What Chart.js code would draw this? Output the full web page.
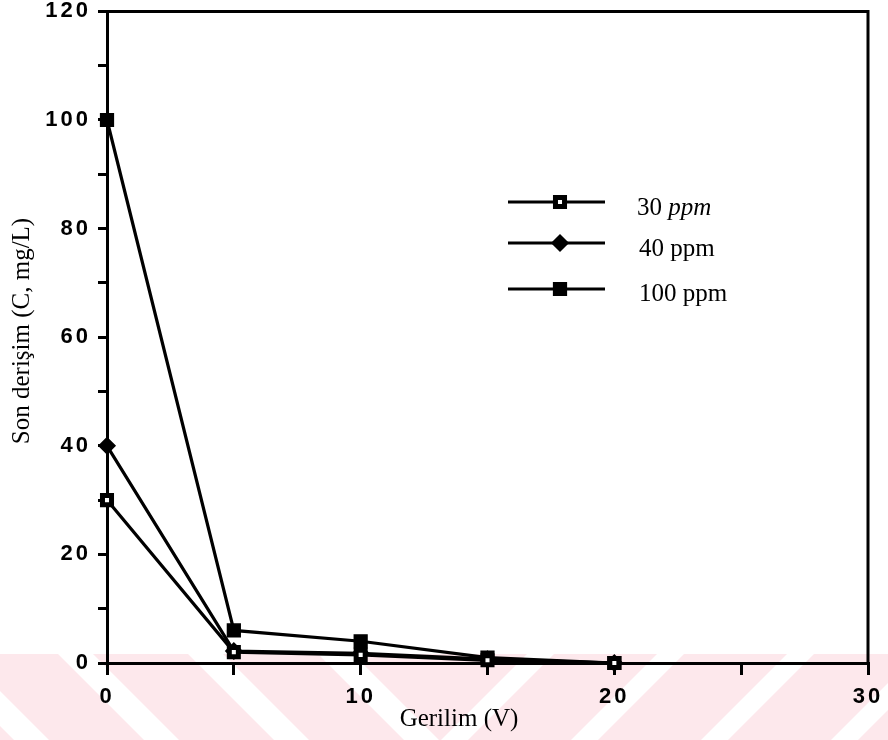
<!DOCTYPE html>
<html>
<head>
<meta charset="utf-8">
<script src="https://cdn.jsdelivr.net/npm/chart.js@4/dist/chart.umd.min.js"></script>
<style>
  html, body { margin: 0; padding: 0; background: #ffffff; }
  #c { display: block; }
</style>
</head>
<body>
<canvas id="c" width="888" height="740"></canvas>
<script>
// ---- data ----
const voltages = [0, 5, 10, 15, 20];          // Gerilim (V)
const conc30   = [30, 2, 1.5, 0.5, 0];         // 30 ppm
const conc40   = [40, 2.2, 1.8, 0.7, 0];       // 40 ppm
const conc100  = [100, 6, 4, 1, 0];            // 100 ppm
const seriesLabels = ['30 ppm', '40 ppm', '100 ppm'];
const xTickLabels = [0, 10, 20, 30];
const yTickLabels = [0, 20, 40, 60, 80, 100, 120];
const xTitle = 'Gerilim (V)';
const yTitle = 'Son derişim (C, mg/L)';

const toXY = arr => voltages.map((v, i) => ({ x: v, y: arr[i] }));

const serif = '"Liberation Serif", "Times New Roman", serif';
const sans = '"Liberation Sans", Arial, Helvetica, sans-serif';

const datasets = [
  { label: seriesLabels[0], data: toXY(conc30), borderColor: '#000', borderWidth: 3.2,
    pointStyle: 'rect', pointRadius: 6.4, pointBorderWidth: 5,
    pointBackgroundColor: '#fff', pointBorderColor: '#000', clip: false, tension: 0 },
  { label: seriesLabels[1], data: toXY(conc40), borderColor: '#000', borderWidth: 3.2,
    pointStyle: 'rectRot', pointRadius: 8, pointBorderWidth: 1.5,
    pointBackgroundColor: '#000', pointBorderColor: '#000', clip: false, tension: 0 },
  { label: seriesLabels[2], data: toXY(conc100), borderColor: '#000', borderWidth: 3.2,
    pointStyle: 'rect', pointRadius: 9, pointBorderWidth: 1.5,
    pointBackgroundColor: '#000', pointBorderColor: '#000', clip: false, tension: 0 }
];

function drawStripes(ctx, x0, x1, top, bot, start, period, pinkW, dir) {
  const h = bot - top;
  ctx.save();
  ctx.beginPath();
  ctx.rect(x0, top, x1 - x0, h);
  ctx.clip();
  for (let s = start - 10 * period; s < x1 + 2 * period; s += period) {
    ctx.beginPath();
    ctx.moveTo(s, top);
    ctx.lineTo(s + pinkW, top);
    ctx.lineTo(s + pinkW + dir * h, bot);
    ctx.lineTo(s + dir * h, bot);
    ctx.closePath();
    ctx.fill();
  }
  ctx.restore();
}

// watermark stripes (background decoration) + letter spacing for tick numerals
const bgPlugin = {
  id: 'bg',
  beforeDraw(chart) {
    const ctx = chart.ctx;
    ctx.save();
    ctx.fillStyle = '#fff';
    ctx.fillRect(0, 0, chart.width, chart.height);
    ctx.fillStyle = '#fde8ec';
    const top = 654, bot = 740, mid = 440;
    drawStripes(ctx, 0, mid, top, bot, 223, 130, 95, 1);      // "\" stripes
    drawStripes(ctx, mid, chart.width, top, bot, 554, 130, 103, -1); // "/" stripes
    ctx.restore();
    ctx.letterSpacing = '3px';
  },
  afterDraw(chart) {
    const ctx = chart.ctx;
    const area = chart.chartArea;
    ctx.save();
    ctx.letterSpacing = '0px';
    // frame top and right
    ctx.strokeStyle = '#000';
    ctx.lineWidth = 3;
    ctx.beginPath();
    ctx.moveTo(area.left - 9, area.top);
    ctx.lineTo(area.right, area.top);
    ctx.lineTo(area.right, area.bottom);
    ctx.stroke();

    // axis titles
    ctx.fillStyle = '#000';
    ctx.font = '25px ' + serif;
    ctx.textAlign = 'center';
    ctx.textBaseline = 'middle';
    ctx.fillText(xTitle, 459, 719);
    ctx.save();
    ctx.translate(22, 331);
    ctx.rotate(-Math.PI / 2);
    ctx.fillText(yTitle, 0, 0);
    ctx.restore();

    // legend
    const ys = [202, 243, 289];
    const textY = [208, 249, 294];
    chart.data.datasets.forEach((ds, i) => {
      ctx.strokeStyle = '#000';
      ctx.lineWidth = 3.2;
      ctx.beginPath();
      ctx.moveTo(508, ys[i]);
      ctx.lineTo(605, ys[i]);
      ctx.stroke();
      ctx.fillStyle = ds.pointBackgroundColor;
      ctx.strokeStyle = ds.pointBorderColor;
      ctx.lineWidth = ds.pointBorderWidth;
      Chart.helpers.drawPoint(ctx, {
        pointStyle: ds.pointStyle, radius: ds.pointRadius,
        borderWidth: ds.pointBorderWidth, rotation: 0
      }, 560, ys[i]);
      ctx.fillStyle = '#000';
      ctx.textAlign = 'left';
      ctx.textBaseline = 'middle';
      if (i === 0) {
        const parts = ds.label.split(' ');
        ctx.font = '25px ' + serif;
        ctx.fillText(parts[0] + ' ', 637, textY[i]);
        const w = ctx.measureText(parts[0] + ' ').width;
        ctx.font = 'italic 25px ' + serif;
        ctx.fillText(parts[1], 637 + w, textY[i]);
      } else {
        ctx.font = '25px ' + serif;
        ctx.fillText(ds.label, 639, textY[i]);
      }
    });
    ctx.restore();
  }
};

new Chart(document.getElementById('c'), {
  type: 'line',
  data: { datasets },
  plugins: [bgPlugin],
  options: {
    responsive: false,
    animation: false,
    devicePixelRatio: 1,
    layout: { padding: { top: 10, right: 20, left: 0, bottom: 0 } },
    plugins: { legend: { display: false }, tooltip: { enabled: false } },
    scales: {
      x: {
        type: 'linear', min: 0, max: 30,
        afterFit: s => { s.height = 77; s.paddingLeft = 0; s.paddingRight = 0; },
        afterBuildTicks: s => { s.ticks = [0,5,10,15,20,25,30].map(v => ({ value: v })); },
        ticks: {
          autoSkip: false, maxRotation: 0, color: '#000', padding: 11,
          font: { family: sans, size: 22, weight: 'bold', lineHeight: 1 },
          callback: v => xTickLabels.includes(v) ? String(v) : ''
        },
        grid: { drawOnChartArea: false, drawTicks: true, tickLength: 12, lineWidth: 3, color: '#000' },
        border: { display: true, width: 3, color: '#000' }
      },
      y: {
        type: 'linear', min: 0, max: 120,
        afterFit: s => { s.width = 107; s.paddingTop = 0; s.paddingBottom = 0; },
        afterBuildTicks: s => { s.ticks = [0,10,20,30,40,50,60,70,80,90,100,110,120].map(v => ({ value: v })); },
        ticks: {
          autoSkip: false, color: '#000', padding: 7,
          font: { family: sans, size: 22, weight: 'bold', lineHeight: 1 },
          callback: v => yTickLabels.includes(v) ? String(v) : ''
        },
        grid: { drawOnChartArea: false, drawTicks: true, tickLength: 9, lineWidth: 3, color: '#000' },
        border: { display: true, width: 3, color: '#000' }
      }
    }
  }
});
</script>
</body>
</html>
